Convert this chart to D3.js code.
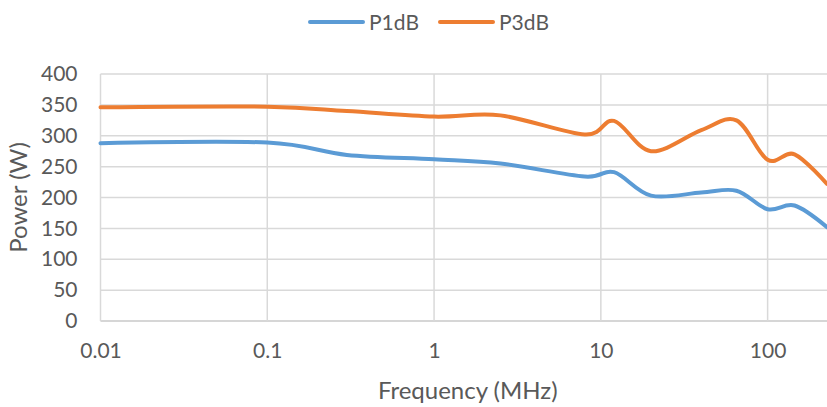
<!DOCTYPE html>
<html>
<head>
<meta charset="utf-8">
<script src="https://cdn.jsdelivr.net/npm/d3@7"></script>
<style>
  body { margin: 0; background: #fff; }
  text { font-family: Lato, "Open Sans", sans-serif; fill: #595959; }
</style>
</head>
<body>
<div id="chart"></div>
<script>
var WIDTH = 827
var HEIGHT = 407

// data
var freqs = [0.01, 0.1, 0.3, 1, 2.5, 8, 12, 20, 40, 65, 100, 145, 227];
var p1dB = [288, 289, 269, 262, 255, 234, 241, 203, 208, 211, 181, 187, 152];
var p3dB = [346, 347, 340, 331, 333, 302, 324, 275, 309, 325, 261, 270, 222];
var seriesNames = ['P1dB', 'P3dB'];
var seriesColors = ['#5B9BD5', '#ED7D31'];
var xTicks = [0.01, 0.1, 1, 10, 100];
var xTickLabels = ['0.01', '0.1', '1', '10', '100'];
var yTicks = [0, 50, 100, 150, 200, 250, 300, 350, 400];

var margin = { left: 100.5, right: 0, top: 74, bottom: 86 };

var xScale = d3.scaleLog()
    .domain([0.01, 227])
    .range([margin.left, WIDTH - margin.right]);
var yScale = d3.scaleLinear()
    .domain([0, 400])
    .range([HEIGHT - margin.bottom, margin.top]);

var svg = d3.select('#chart').append('svg')
    .attr('width', WIDTH)
    .attr('height', HEIGHT);

// gridlines
svg.append('g').selectAll('line.hgrid')
    .data(yTicks)
    .enter()
    .append('line')
    .attr('class', 'hgrid')
    .attr('x1', margin.left)
    .attr('x2', WIDTH)
    .attr('y1', d => yScale(d))
    .attr('y2', d => yScale(d))
    .attr('stroke', d => d == 0 ? '#c8c8c8' : '#d9d9d9')
    .attr('stroke-width', 1.5);

svg.append('g').selectAll('line.vgrid')
    .data(xTicks)
    .enter()
    .append('line')
    .attr('class', 'vgrid')
    .attr('x1', d => xScale(d))
    .attr('x2', d => xScale(d))
    .attr('y1', yScale(400))
    .attr('y2', yScale(0))
    .attr('stroke', '#d9d9d9')
    .attr('stroke-width', 1.5);

// axes
var xAxis = d3.axisBottom(xScale)
    .tickValues(xTicks)
    .tickFormat((d, i) => xTickLabels[i])
    .tickSize(0)
    .tickPadding(22);
var gx = svg.append('g')
    .attr('transform', 'translate(0,' + yScale(0) + ')')
    .call(xAxis);
gx.select('.domain').remove();
gx.selectAll('text').style('font-size', '21px').attr('fill', '#595959');

var yAxis = d3.axisLeft(yScale)
    .tickValues(yTicks)
    .tickSize(0)
    .tickPadding(23);
var gy = svg.append('g')
    .attr('transform', 'translate(' + margin.left + ',0)')
    .call(yAxis);
gy.select('.domain').remove();
gy.selectAll('text').style('font-size', '21px').attr('fill', '#595959');

// axis titles
svg.append('text')
    .attr('x', (margin.left + WIDTH) / 2 + 4)
    .attr('y', 399)
    .attr('text-anchor', 'middle')
    .style('font-size', '24px')
    .text('Frequency (MHz)');

svg.append('text')
    .attr('transform', 'translate(27,' + ((yScale(0) + yScale(400)) / 2) + ') rotate(-90)')
    .attr('text-anchor', 'middle')
    .style('font-size', '24px')
    .text('Power (W)');

// lines
var lineGen = d3.line()
    .x(d => xScale(d[0]))
    .y(d => yScale(d[1]))
    .curve(d3.curveCardinal.tension(0));

[p1dB, p3dB].forEach((values, i) => {
    var pts = freqs.map((f, j) => [f, values[j]]);
    svg.append('path')
        .attr('d', lineGen(pts))
        .attr('fill', 'none')
        .attr('stroke', seriesColors[i])
        .attr('stroke-width', 4)
        .attr('stroke-linecap', 'round');
});

// legend
var legendX = [310, 440];
seriesNames.forEach((name, i) => {
    svg.append('line')
        .attr('x1', legendX[i])
        .attr('x2', legendX[i] + 53)
        .attr('y1', 22)
        .attr('y2', 22)
        .attr('stroke', seriesColors[i])
        .attr('stroke-width', 4)
        .attr('stroke-linecap', 'round');
    svg.append('text')
        .attr('x', legendX[i] + 59)
        .attr('y', 29.5)
        .style('font-size', '21px')
        .text(name);
});
</script>
</body>
</html>
